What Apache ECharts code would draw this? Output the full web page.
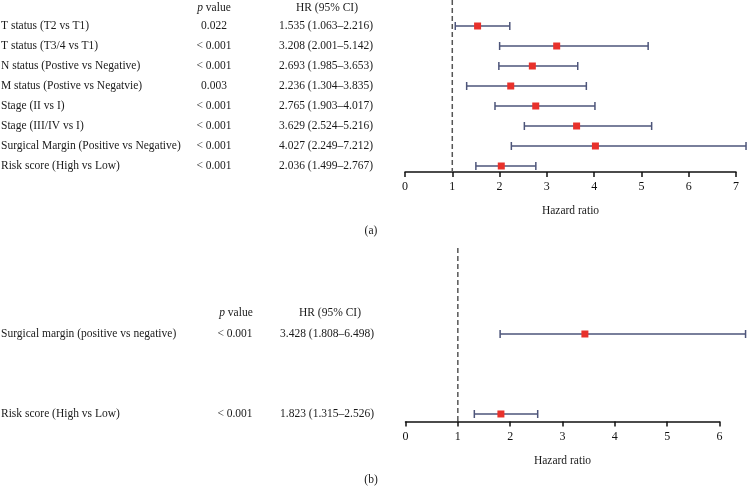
<!DOCTYPE html>
<html>
<head>
<meta charset="utf-8">
<script src="https://cdn.jsdelivr.net/npm/echarts@6/dist/echarts.min.js"></script>
<style>
  html, body { margin: 0; padding: 0; background: #fff; }
  #chart { width: 747px; height: 499px; }
</style>
</head>
<body>
<div id="chart"></div>
<script>
// (a) multivariable table
const labelsA = [
  'T status (T2 vs T1)',
  'T status (T3/4 vs T1)',
  'N status (Postive vs Negative)',
  'M status (Postive vs Negatvie)',
  'Stage (II vs I)',
  'Stage (III/IV vs I)',
  'Surgical Margin (Positive vs Negative)',
  'Risk score (High vs Low)'
];
const pValuesA = ['0.022', '< 0.001', '< 0.001', '0.003', '< 0.001', '< 0.001', '< 0.001', '< 0.001'];
const hrA = [1.535, 3.208, 2.693, 2.236, 2.765, 3.629, 4.027, 2.036];
const lowA = [1.063, 2.001, 1.985, 1.304, 1.903, 2.524, 2.249, 1.499];
const highA = [2.216, 5.142, 3.653, 3.835, 4.017, 5.216, 7.212, 2.767];

// (b)
const labelsB = ['Surgical margin (positive vs negative)', 'Risk score (High vs Low)'];
const pValuesB = ['< 0.001', '< 0.001'];
const hrB = [3.428, 1.823];
const lowB = [1.808, 1.315];
const highB = [6.498, 2.526];

const axisMaxA = 7;
const axisMaxB = 6;
const refLine = 1;

const FONT = '"Liberation Serif", "DejaVu Serif", serif';
const FS = 11.5;
const RED = '#e8312b';
const WHISKER = '#4d557a';

const fmt = v => v.toFixed(3);

// y ranges (row index, inverted) so rows land where the picture has them
const yRangeA = [-1.3, 7.3];
const yRangeB = [-1.075, 1.094];

function makeRender(labels, pvals, pX, hrX) {
  return function (params, api) {
    const i = api.value(0);
    const hr = api.value(1);
    const lo = api.value(2);
    const hi = api.value(3);
    const a = api.coord([lo, i]);
    const b = api.coord([hi, i]);
    const m = api.coord([hr, i]);
    const y = m[1];
    const txt = (text, x, align) => ({
      type: 'text', x: x, y: y,
      style: { text: text, fontFamily: FONT, fontSize: FS, fill: '#1a1a1a', align: align, verticalAlign: 'middle' }
    });
    return {
      type: 'group',
      children: [
        { type: 'line', shape: { x1: a[0], y1: y, x2: b[0], y2: y }, style: { stroke: WHISKER, lineWidth: 1.5 } },
        { type: 'line', shape: { x1: a[0], y1: y - 4, x2: a[0], y2: y + 4 }, style: { stroke: WHISKER, lineWidth: 1.5 } },
        { type: 'line', shape: { x1: b[0], y1: y - 4, x2: b[0], y2: y + 4 }, style: { stroke: WHISKER, lineWidth: 1.5 } },
        { type: 'rect', shape: { x: m[0] - 3.5, y: y - 3.5, width: 7, height: 7 }, style: { fill: RED } },
        txt(labels[i], 1, 'left'),
        txt(pvals[i], pX, 'center'),
        txt(fmt(hr) + ' (' + fmt(lo) + '\u2013' + fmt(hi) + ')', hrX, 'center')
      ]
    };
  };
}

const rowsA = hrA.map((v, i) => [i, v, lowA[i], highA[i]]);
const rowsB = hrB.map((v, i) => [i, v, lowB[i], highB[i]]);

function xAxisFor(gridIndex, max) {
  return {
    gridIndex: gridIndex,
    type: 'value',
    position: 'bottom',
    min: 0,
    max: max,
    interval: 1,
    name: 'Hazard ratio',
    nameLocation: 'middle',
    nameGap: 33,
    nameTextStyle: { fontFamily: FONT, fontSize: FS, color: '#1a1a1a' },
    axisLine: { show: true, onZero: false, lineStyle: { color: '#111', width: 1.5 } },
    axisTick: { show: true, length: 5, lineStyle: { color: '#111', width: 1.5 } },
    axisLabel: { fontFamily: FONT, fontSize: 12, color: '#111', margin: 9 },
    splitLine: { show: false }
  };
}

function yAxisFor(gridIndex, range) {
  return { gridIndex: gridIndex, type: 'value', inverse: true, min: range[0], max: range[1], show: false, splitLine: { show: false } };
}

const header = (x, y, text, italicP) => ({
  type: 'text', x: x, y: y,
  style: {
    text: italicP ? '{i|p} value' : text,
    fontFamily: FONT, fontSize: FS, fill: '#1a1a1a', align: 'center', verticalAlign: 'middle',
    rich: { i: { fontStyle: 'italic', fontFamily: FONT, fontSize: FS } }
  }
});

const chart = echarts.init(document.getElementById('chart'));
chart.setOption({
  backgroundColor: '#fff',
  animation: false,
  grid: [
    { left: 405, top: 0, width: 331, height: 172 },
    { left: 405.5, top: 248, width: 314, height: 173.5 }
  ],
  xAxis: [xAxisFor(0, axisMaxA), xAxisFor(1, axisMaxB)],
  yAxis: [yAxisFor(0, yRangeA), yAxisFor(1, yRangeB)],
  graphic: [
    header(214, 8, '', true),
    header(327, 8, 'HR (95% CI)', false),
    header(236, 313, '', true),
    header(330, 313, 'HR (95% CI)', false),
    { type: 'text', x: 371, y: 231, style: { text: '(a)', fontFamily: FONT, fontSize: FS, fill: '#1a1a1a', align: 'center', verticalAlign: 'middle' } },
    { type: 'text', x: 371, y: 480, style: { text: '(b)', fontFamily: FONT, fontSize: FS, fill: '#1a1a1a', align: 'center', verticalAlign: 'middle' } }
  ],
  series: [
    {
      type: 'line', xAxisIndex: 0, yAxisIndex: 0, symbol: 'none', silent: true,
      data: [[refLine, yRangeA[0]], [refLine, yRangeA[1]]],
      lineStyle: { color: '#555', width: 1.5, type: [5, 3] }
    },
    {
      type: 'line', xAxisIndex: 1, yAxisIndex: 1, symbol: 'none', silent: true,
      data: [[refLine, yRangeB[0]], [refLine, yRangeB[1]]],
      lineStyle: { color: '#555', width: 1.5, type: [5, 3] }
    },
    {
      type: 'custom', xAxisIndex: 0, yAxisIndex: 0, clip: false,
      renderItem: makeRender(labelsA, pValuesA, 214, 326),
      data: rowsA
    },
    {
      type: 'custom', xAxisIndex: 1, yAxisIndex: 1, clip: false,
      renderItem: makeRender(labelsB, pValuesB, 235, 327),
      data: rowsB
    }
  ]
});
</script>
</body>
</html>
